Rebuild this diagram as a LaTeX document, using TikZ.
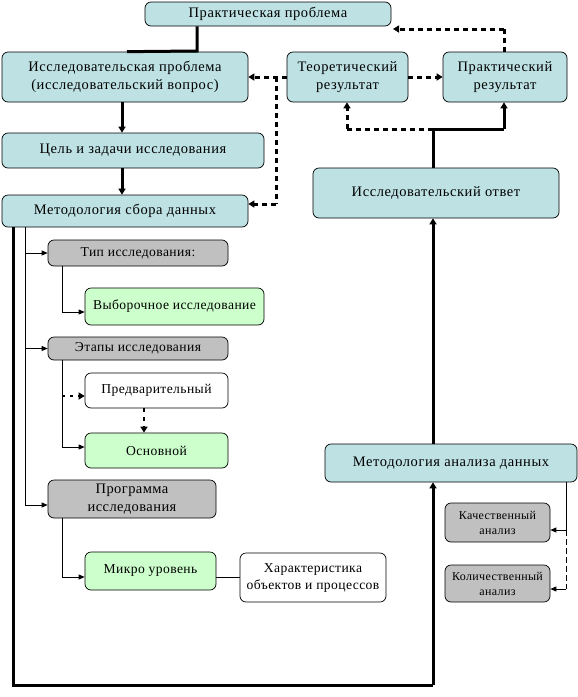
\documentclass[tikz,border=0pt]{standalone}
\usepackage{fontspec}
\setmainfont{Liberation Serif}
\newfontfamily\bigfont{Liberation Serif}[LetterSpace=4]
\newfontfamily\midfont{Liberation Serif}[LetterSpace=3]
\usetikzlibrary{arrows.meta,calc}
\definecolor{bluebox}{RGB}{190,225,228}
\definecolor{graybox}{RGB}{192,192,192}
\definecolor{greenbox}{RGB}{204,255,204}
\tikzset{
  box/.style={draw=black,line width=0.7pt,rounded corners=6pt,inner sep=1pt,align=center,font=\midfont\fontsize{13.6}{17}\selectfont},
  bbox/.style={box,fill=bluebox,font=\bigfont\fontsize{14.5}{18.5}\selectfont},
  gbox/.style={box,fill=graybox},
  grbox/.style={box,fill=greenbox},
  wbox/.style={box,fill=white},
  smallfont/.style={font=\midfont\fontsize{12}{15}\selectfont},
  thickline/.style={line width=3pt},
  thickarr/.style={line width=3pt,-{Triangle[length=6pt,width=7pt]}},
  dasharr/.style={line width=3pt,dash pattern=on 5pt off 4pt,-{Triangle[length=6pt,width=7pt]}},
  dashline/.style={line width=3pt,dash pattern=on 5pt off 4pt},
  thinarr/.style={line width=0.8pt,-{Triangle[length=6pt,width=5pt]}},
  thinline/.style={line width=0.8pt},
}
\begin{document}
\begin{tikzpicture}[x=1pt,y=-1pt]
\useasboundingbox[fill=white] (0,0) rectangle (578,697);
% boxes
\node[bbox,minimum width=246pt,minimum height=24pt] (pp) at (268,14) {Практическая проблема};
\node[bbox,minimum width=246pt,minimum height=50pt] (ip) at (125,77) {Исследовательская проблема\\(исследовательский вопрос)};
\node[bbox,minimum width=121pt,minimum height=50pt] (tr) at (347.5,77) {Теоретический\\результат};
\node[bbox,minimum width=124pt,minimum height=50pt] (pr) at (505,77) {Практический\\результат};
\node[bbox,minimum width=262pt,minimum height=35pt] (cz) at (133,150.5) {Цель и задачи исследования};
\node[bbox,minimum width=246pt,minimum height=32pt] (ms) at (125,211) {Методология сбора данных};
\node[bbox,minimum width=246pt,minimum height=50pt] (io) at (436,193) {Исследовательский ответ};
\node[gbox,minimum width=180pt,minimum height=26pt] (tip) at (138,253) {Тип исследования:};
\node[grbox,minimum width=179pt,minimum height=37pt] (vyb) at (174.5,306.5) {Выборочное исследование};
\node[gbox,minimum width=180pt,minimum height=23pt] (etp) at (138,348.5) {Этапы исследования};
\node[wbox,minimum width=143pt,minimum height=35pt] (pred) at (156.5,390.5) {Предварительный};
\node[grbox,minimum width=143pt,minimum height=35pt] (osn) at (156.5,450.5) {Основной};
\node[gbox,minimum width=168pt,minimum height=38pt,font=\midfont\fontsize{14.5}{18}\selectfont] (prg) at (132,499) {Программа\\исследования};
\node[grbox,minimum width=131pt,minimum height=38pt] (mik) at (150.5,571) {Микро уровень};
\node[wbox,minimum width=146pt,minimum height=49pt] (har) at (313,577.5) {Характеристика\\объектов и процессов};
\node[bbox,minimum width=252pt,minimum height=38pt] (ma) at (451,463) {Методология анализа данных};
\node[gbox,minimum width=105pt,minimum height=39pt,smallfont] (kach) at (497.5,522.5) {Качественный\\анализ};
\node[gbox,minimum width=105pt,minimum height=37pt,smallfont] (kol) at (497.5,583.5) {Количественный\\анализ};
% junction coordinates
\coordinate (j1) at (197,51);
\coordinate (j2) at (276,77);
\coordinate (j3) at (276,204);
\coordinate (j4) at (504,29);
\coordinate (j5) at (433,129);
\coordinate (j6) at (347,129);
\coordinate (j7) at (504,129);
\coordinate (j8) at (13,685);
\coordinate (j9) at (433,685);
\coordinate (j10) at (25,505);
\coordinate (j11) at (62,396);
\coordinate (j12) at (566,530);
% top connectors
\draw[thickline] (pp.south -| j1) -- (j1) -- (ip.north -| 127,0);
\draw[thickarr] (ip.south -| 122,0) -- (cz.north -| 122,0);
\draw[thickarr] (cz.south -| 122,0) -- (ms.north -| 122,0);
\draw[dasharr] (tr.west) -- (ip.east);
\draw[dashline] (j2) -- (j3);
\draw[dasharr] (j3) -- (ms.east |- j3);
\draw[dashline] (pr.north -| j4) -- (j4);
\draw[dasharr] (j4) -- (393,29);
\draw[dasharr] (tr.east) -- (pr.west);
\draw[thickline] (io.north -| j5) -- (j5) -- (j7);
\draw[thickarr] (j7) -- (pr.south -| j7);
\draw[dashline] (j5) -- (j6);
\draw[dasharr] (j6) -- (tr.south -| j6);
% left big loop
\draw[thickline] (ms.south -| j8) -- (j8) -- (j9);
\draw[thickarr] (j9) -- (ma.south -| j9);
\draw[thickarr] (ma.north -| j5) -- (io.south -| j5);
% thin tree
\draw[thinline] (ms.south -| j10) -- (j10);
\draw[thinarr] (tip.west -| j10) -- (tip.west);
\draw[thinarr] (etp.west -| j10) -- (etp.west);
\draw[thinarr] (j10) -- (prg.west |- j10);
\draw[thinarr] (tip.south -| 62,0) |- (vyb.west |- 0,312);
\draw[thinarr] (etp.south -| 62,0) |- (osn.west |- 0,447);
\draw[dasharr,line width=2.5pt,dash pattern=on 3pt off 5pt] (j11) -- (pred.west |- j11);
\draw[dasharr,line width=2.5pt,dash pattern=on 4pt off 5pt] (pred.south -| 144,0) -- (osn.north -| 144,0);
\draw[thinarr] (prg.south -| 62,0) |- (mik.west |- 0,577);
\draw[thinline] (mik.east |- har.west) -- (har.west);
% analysis branch
\draw[thinline] (ma.south -| j12) -- (j12);
\draw[thinarr] (j12) -- (kach.east |- j12);
\draw[thinline,dash pattern=on 6pt off 3pt] (j12) -- (566,589);
\draw[thinarr] (566,589) -- (kol.east |- 0,589);
\end{tikzpicture}
\end{document}
